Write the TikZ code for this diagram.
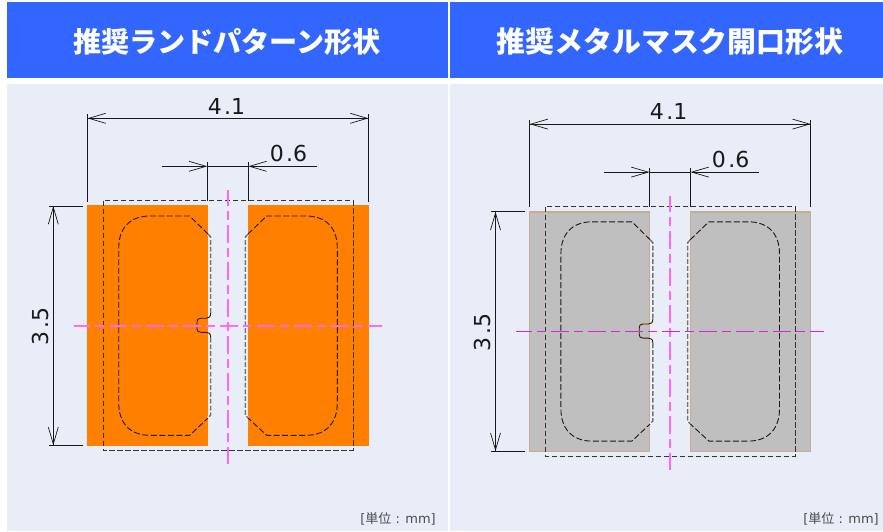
\documentclass[tikz,border=0pt]{standalone}
\usepackage{fontspec}
\setmainfont{DejaVu Sans}
\newfontfamily\cjk{Noto Sans CJK JP}
\usetikzlibrary{arrows.meta}
\definecolor{hdr}{HTML}{3366FF}
\definecolor{bodybg}{HTML}{E9EDF7}
\definecolor{padorange}{HTML}{FF8000}
\definecolor{padgray}{HTML}{BFBFBF}
\definecolor{padedge}{HTML}{C8AE90}
\definecolor{clv}{HTML}{FF66FF}
\definecolor{clhl}{HTML}{FF6CF0}
\definecolor{clhr}{HTML}{E020E0}
\definecolor{gapgray}{HTML}{6E737C}
\tikzset{
  hdrbox/.style={fill=hdr,draw=none},
  bodybox/.style={fill=bodybg,draw=none},
  hdrtext/.style={text=white,font=\cjk\bfseries\fontsize{#1}{29}\selectfont,inner sep=0pt},
  dimline/.style={line width=0.9pt,draw=black!90},
  dimarrow/.style={dimline,-{Straight Barb[length=17pt,width=10pt,line width=0.7pt]}},
  dimtext/.style={font=\fontsize{22}{23}\selectfont,inner sep=0pt,text=black!90},
  outerdash/.style={line width=0.9pt,draw=black!80,dash pattern=on 5.5pt off 2.5pt},
  innerdash/.style={line width=0.9pt,draw=black!90,dash pattern=on 6pt off 2.5pt},
  gaphalo/.style={line width=3pt,draw=white,opacity=0.6},
  gapdash/.style={line width=1.5pt,draw=gapgray,dash pattern=on 5pt off 1.8pt},
  notchline/.style={line width=0.9pt,draw=black!80!orange},
  centerdash/.style={dash pattern=on 18pt off 5pt on 9pt off 5pt,dash phase=2pt},
  centerv/.style={line width=2pt,draw=clv,centerdash},
  unittext/.style={font=\fontsize{13}{14}\selectfont,inner sep=0pt,text=black!70,anchor=east},
}
\newcommand{\footprint}[4]{%
  % pads
  \fill[#1,draw=#2,line width=1.3pt] (87.6,206.1) rectangle (207.4,445.4);
  \fill[#1,draw=#2,line width=1.3pt] (248.6,206.1) rectangle (368.4,445.4);
  % outer outline
  \draw[outerdash] (103,200.7) rectangle (353,450.3);
  % left inner outline, part on the pad
  \draw[innerdash] (208,234) -- (189.7,216) -- (150,216)
    .. controls (130,216) and (118.7,228) .. (118.7,248)
    -- (118.7,403) .. controls (118.7,423) and (130,435.3) .. (150,435.3)
    -- (189.7,435.3) -- (208,418);
  % left inner outline, part in the gap
  \draw[gaphalo] (208,234) -- (210.7,237) -- (210.7,313);
  \draw[gaphalo] (210.7,337.5) -- (210.7,415) -- (208,418);
  \draw[gapdash] (208,234) -- (210.7,237) -- (210.7,313);
  \draw[gapdash] (210.7,337.5) -- (210.7,415) -- (208,418);
  \draw[notchline] (210.7,313)
    .. controls (210.7,317) and (209,318.2) .. (206,318.2) -- (201,318.2)
    .. controls (198,318.2) and (197,319.5) .. (197,322) -- (197,328.5)
    .. controls (197,331) and (198,332.3) .. (201,332.3) -- (206,332.3)
    .. controls (209,332.3) and (210.7,333.5) .. (210.7,337.5);
  % right inner outline, part on the pad
  \draw[innerdash] (248,234) -- (266.7,216) -- (306,216)
    .. controls (326,216) and (337.3,228) .. (337.3,248)
    -- (337.3,403) .. controls (337.3,423) and (326,435.3) .. (306,435.3)
    -- (266.7,435.3) -- (248,418);
  % right inner outline, part in the gap
  \draw[gaphalo] (248,234) -- (245.3,237) -- (245.3,415) -- (248,418);
  \draw[gapdash] (248,234) -- (245.3,237) -- (245.3,415) -- (248,418);
  % centre lines
  \coordinate (vt) at (228,190); \coordinate (vb) at (228,464);
  \coordinate (hl) at (74,325.6); \coordinate (hr) at (382,325.6);
  \draw[centerv] (vt) -- (vb);
  \draw[line width=#4,draw=#3,centerdash] (hl) -- (hr);
  % 4.1 dimension
  \coordinate (wl) at (87.5,118.3); \coordinate (wr) at (368.5,118.3);
  \coordinate (wlt) at (87.5,114); \coordinate (wlb) at (87.5,201.5);
  \coordinate (wrt) at (368.5,114); \coordinate (wrb) at (368.5,201.5);
  \draw[dimline] (wlt) -- (wlb);
  \draw[dimline] (wrt) -- (wrb);
  \draw[dimarrow] (wr) -- (wl);
  \draw[dimarrow] (wl) -- (wr);
  \node[dimtext] (w) at (226.5,106) {4\hspace{2.5pt}.1};
  % 0.6 dimension
  \coordinate (gl) at (207.3,166.3); \coordinate (gr) at (248.3,166.3);
  \coordinate (gls) at (162,166.3); \coordinate (grs) at (316.7,166.3);
  \coordinate (glt) at (207.3,162); \coordinate (glb) at (207.3,201);
  \coordinate (grt) at (248.3,162); \coordinate (grb) at (248.3,201);
  \draw[dimline] (glt) -- (glb);
  \draw[dimline] (grt) -- (grb);
  \draw[dimline] (gl) -- (gr);
  \draw[dimarrow] (gls) -- (gl);
  \draw[dimarrow] (grs) -- (gr);
  \node[dimtext] (g) at (288.5,153.5) {0\hspace{2.5pt}.6};
  % 3.5 dimension
  \coordinate (ht) at (53.3,206); \coordinate (hb) at (53.3,445.3);
  \coordinate (htl) at (49,206); \coordinate (htr) at (83,206);
  \coordinate (hbl) at (49,445.3); \coordinate (hbr) at (83,445.3);
  \draw[dimline] (htl) -- (htr);
  \draw[dimline] (hbl) -- (hbr);
  \draw[dimarrow] (hb) -- (ht);
  \draw[dimarrow] (ht) -- (hb);
  \node[dimtext,rotate=90] (h) at (40,326.5) {3\hspace{2.5pt}.5};
}
\begin{document}
\begin{tikzpicture}[x=1pt,y=-1pt]
  \useasboundingbox (0,0) rectangle (883,531);
  \fill[white] (0,0) rectangle (883,531);
  \fill[hdrbox] (7,2) rectangle (448,78);
  \fill[hdrbox] (450,2) rectangle (883,78);
  \fill[bodybox] (7,84) rectangle (448,531);
  \fill[bodybox] (450,84) rectangle (883,531);
  \node[hdrtext=28.1] (t1) at (227,41.5) {推奨ランドパターン形状};
  \node[hdrtext=28.9] (t2) at (670,41.5) {推奨メタルマスク開口形状};
  \footprint{padorange}{padorange}{clhl}{2.2pt}
  \begin{scope}[shift={(442.2,5.8)}]
    \footprint{padgray}{padedge}{clhr}{1pt}
  \end{scope}
  \node[unittext] (u1) at (436,519) {[{\cjk 単位} : mm]};
  \node[unittext] (u2) at (879,519) {[{\cjk 単位} : mm]};
\end{tikzpicture}
\end{document}
